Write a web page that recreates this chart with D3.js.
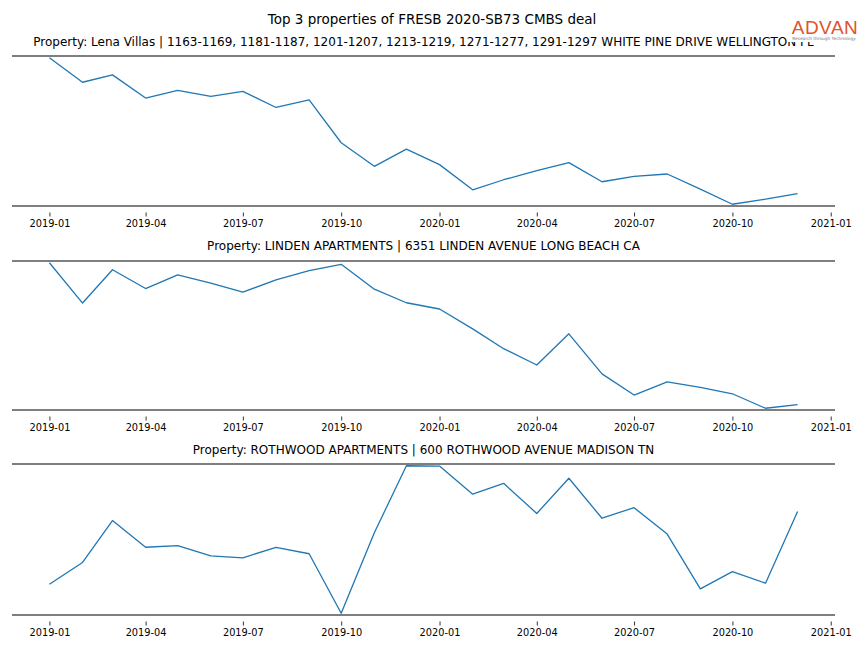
<!DOCTYPE html>
<html><head><meta charset="utf-8">
<script src="https://cdn.jsdelivr.net/npm/d3@7"></script>
<style>body{margin:0;background:#fff;} svg{display:block;font-family:"DejaVu Sans",sans-serif;}</style>
</head><body>
<svg id="c" width="864" height="648"></svg>
<script>
const months = ["2019-01","2019-02","2019-03","2019-04","2019-05","2019-06","2019-07","2019-08","2019-09","2019-10","2019-11","2019-12",
"2020-01","2020-02","2020-03","2020-04","2020-05","2020-06","2020-07","2020-08","2020-09","2020-10","2020-11","2020-12"];
const tickLabels = ["2019-01","2019-04","2019-07","2019-10","2020-01","2020-04","2020-07","2020-10","2021-01"];
const mainTitle = "Top 3 properties of FRESB 2020-SB73 CMBS deal";
const titles = [
 "Property: Lena Villas | 1163-1169, 1181-1187, 1201-1207, 1213-1219, 1271-1277, 1291-1297 WHITE PINE DRIVE WELLINGTON FL",
 "Property: LINDEN APARTMENTS | 6351 LINDEN AVENUE LONG BEACH CA",
 "Property: ROTHWOOD APARTMENTS | 600 ROTHWOOD AVENUE MADISON TN"
];
// relative values (arbitrary units)
const lenaVillas = [146.7,122.4,129.7,106.7,114.4,108.4,113.4,97.4,105.0,62.4,39.0,56.0,
 40.7,15.7,25.7,34.7,42.7,23.7,29.0,31.4,16.4,1.4,6.4,12.0];
const lindenApts = [148.0,107.4,141.0,122.0,135.7,127.4,118.4,130.7,140.0,146.4,121.4,107.7,
 101.4,81.4,61.4,45.0,76.4,36.0,14.7,28.0,22.4,16.0,1.4,5.0];
const rothwoodApts = [30.6,52.0,93.3,67.0,68.6,58.6,56.6,67.0,60.6,2.0,81.3,147.3,
 147.0,119.3,130.0,100.3,135.0,95.6,106.0,80.0,26.0,43.0,31.6,102.3];
const seriesList = [lenaVillas, lindenApts, rothwoodApts];

const svg = d3.select("#c");
const parse = d3.timeParse("%Y-%m");
const dates = months.map(parse);
const x0 = d3.min(dates), x1 = d3.max(dates);
const span = x1 - x0;
const x = d3.scaleTime()
  .domain([new Date(+x0 - span*0.05), new Date(+x1 + span*0.05)])
  .range([12, 835]);
const tickDates = tickLabels.map(parse);

svg.append("text").attr("x",432).attr("y",24).attr("text-anchor","middle")
  .attr("font-size",13.5).attr("fill","#000").text(mainTitle);

const panels = [{top:56,bottom:206},{top:261,bottom:410},{top:464,bottom:615}];
const titleY = [46,250,454];

panels.forEach((p,i)=>{
  const vals = seriesList[i];
  const ext = d3.extent(vals);
  const pad = (ext[1]-ext[0])*0.012;
  const y = d3.scaleLinear().domain([ext[0]-pad, ext[1]+pad]).range([p.bottom, p.top]);
  const g = svg.append("g");
  g.append("text").attr("x",423.5).attr("y",titleY[i]).attr("text-anchor","middle")
    .attr("font-size",12).attr("fill","#000").text(titles[i]);
  const line = d3.line().x((d,j)=>x(dates[j])).y(d=>y(d));
  g.append("path").datum(vals).attr("d",line).attr("fill","none")
    .attr("stroke","#1f77b4").attr("stroke-width",1.3).attr("stroke-linejoin","round");
  g.append("line").attr("x1",12).attr("x2",835).attr("y1",p.top).attr("y2",p.top)
    .attr("stroke","#555").attr("stroke-width",1.6);
  g.append("line").attr("x1",12).attr("x2",835).attr("y1",p.bottom).attr("y2",p.bottom)
    .attr("stroke","#555").attr("stroke-width",1.6);
  const ax = d3.axisBottom(x).tickValues(tickDates).tickFormat(d3.timeFormat("%Y-%m"))
    .tickSizeInner(4).tickSizeOuter(0).tickPadding(2);
  const axg = g.append("g").attr("transform",`translate(0,${p.bottom+6.5})`).call(ax);
  axg.select(".domain").remove();
  axg.selectAll(".tick line").attr("stroke","#000").attr("stroke-width",0.8);
  axg.selectAll(".tick text").attr("font-size",9.8).attr("fill","#000")
    .attr("y",14.5).attr("dy",0)
    .attr("font-family","DejaVu Sans, sans-serif");
});

// logo
const logo = svg.append("g");
logo.append("rect").attr("x",788).attr("y",14).attr("width",76).attr("height",28).attr("fill","#fff");
logo.append("text").attr("x",825).attr("y",34).attr("text-anchor","middle")
  .attr("font-size",19).attr("font-family","Liberation Sans, Arial, sans-serif").attr("letter-spacing",0.5)
  .attr("fill","#e2522a").text("ADVAN");
logo.append("text").attr("x",824).attr("y",40).attr("text-anchor","middle")
  .attr("font-size",4.3).attr("fill","#777").text("Research through Technology");
</script>
</body></html>
